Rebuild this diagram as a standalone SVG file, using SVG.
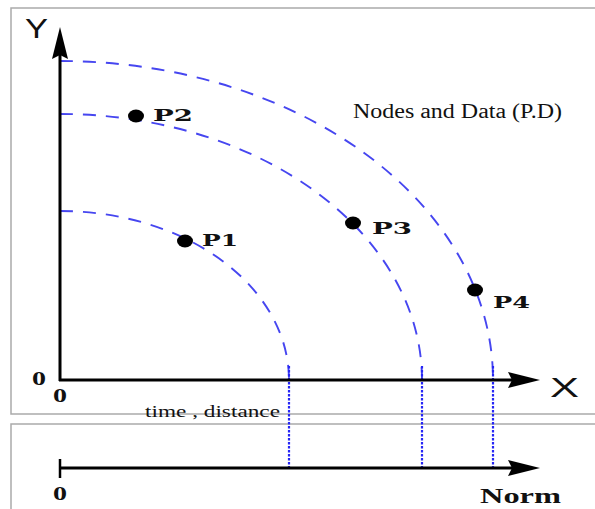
<svg xmlns="http://www.w3.org/2000/svg" width="595" height="509" viewBox="0 0 595 509">
<style>
.panel{fill:#fff;stroke:#aaaaaa;stroke-width:1.5}
.axis{stroke:#000;stroke-width:3;fill:none}
.arc{stroke:#4646f0;stroke-width:1.9;fill:none;stroke-dasharray:13 10}
.dot{stroke:#2626f5;stroke-width:2.2;stroke-dasharray:2.5 1.5;fill:none}
.pt{fill:#000}
.plab{font-family:"DejaVu Serif",serif;font-weight:bold;font-size:17px;fill:#111}
.serif{font-family:"Liberation Serif",serif;fill:#111}
.sans{font-family:"Liberation Sans",sans-serif;fill:#111}
</style>
<defs>
<marker id="ah" viewBox="0 0 32 18" refX="6" refY="9" markerWidth="32" markerHeight="18" markerUnits="userSpaceOnUse" orient="auto">
<path d="M0,1 L32,9 L0,17 L4,9 z" fill="#000"/>
</marker>
</defs>
<rect width="595" height="509" fill="#fff"/>
<g id="panels">
<rect class="panel" x="11" y="8" width="600" height="406"/>
<rect class="panel" x="11" y="424" width="600" height="100"/>
</g>
<g id="connectors">
<path class="arc" d="M60 211 A229 169 0 0 1 289 380"/>
<path class="arc" d="M60 114 A362 266 0 0 1 422 380"/>
<path class="arc" d="M60 61 A433 319 0 0 1 493 380"/>
<line class="dot" x1="289" y1="366" x2="289" y2="468"/>
<line class="dot" x1="422" y1="366" x2="422" y2="468"/>
<line class="dot" x1="493" y1="366" x2="493" y2="468"/>
<line class="axis" x1="60" y1="381" x2="60" y2="53" marker-end="url(#ah)"/>
<line class="axis" x1="59" y1="380" x2="514" y2="380" marker-end="url(#ah)"/>
<line class="axis" x1="60" y1="468" x2="514" y2="468" marker-end="url(#ah)"/>
<line x1="60" y1="459" x2="60" y2="478" stroke="#000" stroke-width="2.5"/>
</g>
<g id="axis-labels">
<text class="sans" x="25" y="38" font-size="27" textLength="23" lengthAdjust="spacingAndGlyphs">Y</text>
<text class="sans" x="550" y="397" font-size="27" textLength="29" lengthAdjust="spacingAndGlyphs">X</text>
<text class="serif" x="32" y="385" font-size="19" font-weight="bold" textLength="14" lengthAdjust="spacingAndGlyphs">0</text>
<text class="serif" x="53" y="402" font-size="19" font-weight="bold" textLength="14" lengthAdjust="spacingAndGlyphs">0</text>
<text class="serif" x="53" y="500" font-size="19" font-weight="bold" textLength="14" lengthAdjust="spacingAndGlyphs">0</text>
<text class="serif" x="480" y="503" font-size="22" font-weight="bold" textLength="81" lengthAdjust="spacingAndGlyphs">Norm</text>
<text class="serif" x="145" y="417" font-size="17" textLength="135" lengthAdjust="spacingAndGlyphs">time , distance</text>
<text class="serif" x="353" y="118" font-size="20" textLength="209" lengthAdjust="spacingAndGlyphs">Nodes and Data (P.D)</text>
</g>
<g id="P1"><ellipse class="pt" cx="185" cy="241" rx="8" ry="6.5"/><text class="plab" x="202" y="246" textLength="36" lengthAdjust="spacingAndGlyphs">P1</text></g>
<g id="P2"><ellipse class="pt" cx="136" cy="116" rx="8" ry="6.5"/><text class="plab" x="153" y="121" textLength="40" lengthAdjust="spacingAndGlyphs">P2</text></g>
<g id="P3"><ellipse class="pt" cx="353" cy="223" rx="8" ry="6.5"/><text class="plab" x="372" y="234" textLength="40" lengthAdjust="spacingAndGlyphs">P3</text></g>
<g id="P4"><ellipse class="pt" cx="475" cy="290" rx="8" ry="6.5"/><text class="plab" x="493" y="308" textLength="37" lengthAdjust="spacingAndGlyphs">P4</text></g>
</svg>
